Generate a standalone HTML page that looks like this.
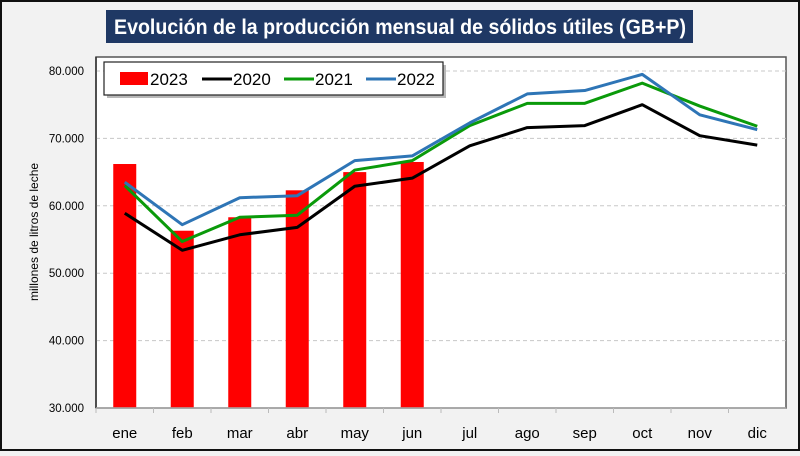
<!DOCTYPE html>
<html><head><meta charset="utf-8"><style>
html,body{margin:0;padding:0;}
body{width:800px;height:451px;overflow:hidden;background:#f2f2f2;font-family:"Liberation Sans",sans-serif;}
</style></head><body>
<svg width="800" height="451" xmlns="http://www.w3.org/2000/svg" font-family="Liberation Sans, sans-serif">
<rect x="1" y="1" width="798" height="449" fill="#f2f2f2" stroke="#111" stroke-width="2"/>
<rect x="106" y="10" width="587" height="33" fill="#1f3864"/>
<text x="114" y="34" fill="#fff" font-weight="bold" font-size="21" textLength="572" lengthAdjust="spacingAndGlyphs">Evolución de la producción mensual de sólidos útiles (GB+P)</text>
<rect x="96" y="57" width="690" height="351" fill="#fff" stroke="#555" stroke-width="1.5"/>
<g id="grid"></g>
<g id="bars"></g>
<g id="lines"></g>
<g id="axes"></g>
<text transform="translate(38,232) rotate(-90)" text-anchor="middle" font-size="12" fill="#000">millones de litros de leche</text>
<g>
<rect x="107" y="65" width="339" height="33" fill="#888" opacity="0.6"/>
<rect x="104" y="62" width="339" height="33" fill="#fff" stroke="#222" stroke-width="1.2"/>
<rect x="120" y="72" width="28" height="13" fill="#ff0000"/>
<text x="150" y="85" font-size="17">2023</text>
<line x1="202" y1="79" x2="232" y2="79" stroke="#000" stroke-width="3"/>
<text x="233" y="85" font-size="17">2020</text>
<line x1="284" y1="79" x2="314" y2="79" stroke="#0a9a0a" stroke-width="3"/>
<text x="315" y="85" font-size="17">2021</text>
<line x1="366" y1="79" x2="396" y2="79" stroke="#2e75b6" stroke-width="3"/>
<text x="397" y="85" font-size="17">2022</text>
</g>
</svg>
<script>
const categories=["ene","feb","mar","abr","may","jun","jul","ago","sep","oct","nov","dic"];
const s2023=[66.2,56.3,58.3,62.3,65.0,66.5];
const s2020=[58.9,53.4,55.7,56.8,62.9,64.1,68.9,71.6,71.9,75.0,70.4,69.0];
const s2021=[63.0,54.7,58.3,58.6,65.3,66.7,71.9,75.2,75.2,78.2,74.8,71.8];
const s2022=[63.5,57.2,61.2,61.5,66.7,67.4,72.3,76.6,77.1,79.5,73.5,71.3];
const yTicks=[30,40,50,60,70,80];
const yTickLabels=["30.000","40.000","50.000","60.000","70.000","80.000"];
const NS="http://www.w3.org/2000/svg";
const X0=96,X1=786,Y0=408,Y1=71;
const step=(X1-X0)/categories.length;
const x=i=>X0+step*(i+0.5);
const y=v=>Y0-(v-30)/(80-30)*(Y0-Y1);
function mk(t,a,p){const e=document.createElementNS(NS,t);for(const k in a)e.setAttribute(k,a[k]);p.appendChild(e);return e;}
const grid=document.getElementById('grid'),bars=document.getElementById('bars'),lines=document.getElementById('lines'),axes=document.getElementById('axes');
yTicks.forEach((t,i)=>{
 if(t>30){const g=mk('line',{x1:X0,x2:X1,y1:y(t),y2:y(t),stroke:'#c8c8c8','stroke-dasharray':'4,3'},grid);
 
 }
 const l=mk('text',{x:84,y:y(t)+4,'text-anchor':'end','font-size':'11.5'},axes);l.textContent=yTickLabels[i];
 
 
});
s2023.forEach((v,i)=>{const b=mk('rect',{x:x(i)-11.5,y:y(v),width:23,height:Y0-y(v),fill:'#ff0000'},bars);
 
 });
[[s2020,'#000','2020'],[s2021,'#0a9a0a','2021'],[s2022,'#2e75b6','2022']].forEach(([d,c,n])=>{
 const p=mk('polyline',{points:d.map((v,i)=>x(i)+','+y(v)).join(' '),fill:'none',stroke:c,'stroke-width':3,'stroke-linejoin':'round'},lines);
 
 
});
const ya=mk('line',{x1:X0,x2:X0,y1:57,y2:Y0,stroke:'#333','stroke-width':1.5},axes);


const xa=mk('line',{x1:X0,x2:X1,y1:Y0,y2:Y0,stroke:'#aaa','stroke-width':1.5},axes);


categories.forEach((c,i)=>{
 mk('line',{x1:X0+step*i,x2:X0+step*i,y1:Y0,y2:Y0+5,stroke:'#bbb'},axes);
 const t=mk('text',{x:x(i),y:438,'text-anchor':'middle','font-size':'15'},axes);t.textContent=c;
 
 
});
</script>
</body></html>
